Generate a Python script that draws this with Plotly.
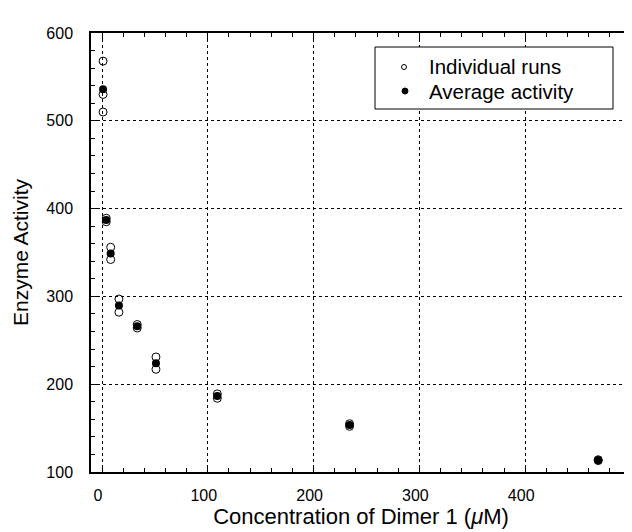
import plotly.graph_objects as go

# Concentration of Dimer 1 (uM)
conc = [1, 4, 8.2, 16, 33.3, 51, 109, 234, 469]
# Individual runs (two or three per concentration)
run_x = [1, 1, 1, 4, 4, 8.2, 8.2, 16, 16, 33.3, 33.3, 51, 51, 109, 109, 234, 234, 469, 469]
run_y = [568, 530, 510, 389, 385, 356, 342, 297, 282, 268, 264, 231, 217, 189, 184, 155, 152, 114, 113]
# Average activity
avg_y = [536, 387, 349, 289.5, 266, 224, 186.5, 153.5, 113.5]

x_ticks = [0, 100, 200, 300, 400, 500]
y_ticks = [100, 200, 300, 400, 500, 600]

legend_labels = ["Individual runs", "Average activity"]

FONT = "Liberation Sans, Arial, Helvetica, sans-serif"

W, H = 632, 532
ML, MR, MT, MB = 83, 9, 25, 68
PW, PH = W - ML - MR, H - MT - MB


def px(xp):
    return (xp - ML) / PW


def py(yp):
    return 1 - (yp - MT) / PH


fig = go.Figure()
fig.add_trace(go.Scatter(
    x=run_x, y=run_y, mode="markers", name=legend_labels[0],
    marker=dict(symbol="circle-open", size=8, color="black", line=dict(width=1, color="black")),
))
fig.add_trace(go.Scatter(
    x=conc, y=avg_y, mode="markers", name=legend_labels[1],
    marker=dict(symbol="circle", size=8, color="black"),
))

axis_common = dict(
    showline=True, linecolor="black", linewidth=1.5, mirror="ticks",
    ticks="inside", ticklen=7, tickwidth=1, tickcolor="black",
    showgrid=True, gridcolor="black", gridwidth=1, griddash="dot",
    zeroline=False,
    tickfont=dict(family=FONT, size=16, color="black"),
    minor=dict(ticks="inside", ticklen=4, tickwidth=1, tickcolor="black", dtick=20, showgrid=False),
)

fig.update_xaxes(
    range=[-10.4, 500], tickvals=x_ticks, ticktext=[str(v) for v in x_ticks],
    title=dict(text="Concentration of Dimer 1 (<i>μ</i>M)", font=dict(family=FONT, size=22, color="black"), standoff=0),
    ticklabelstandoff=8, ticklabelshift=-4,
    **axis_common,
)
fig.update_yaxes(
    range=[100, 600], tickvals=y_ticks, ticktext=[str(v) for v in y_ticks],
    title=dict(text="Enzyme Activity", font=dict(family=FONT, size=21, color="black"), standoff=12),
    ticklabelstandoff=13,
    **axis_common,
)

# Legend drawn as a box with symbols and text labels
shapes = [
    dict(type="rect", xref="paper", yref="paper",
         x0=px(367), x1=px(605), y0=py(101), y1=py(39),
         line=dict(color="black", width=1), fillcolor="white", layer="above"),
    dict(type="circle", xref="paper", yref="paper", xsizemode="pixel", ysizemode="pixel",
         xanchor=px(396), yanchor=py(59), x0=-2.5, x1=2.5, y0=-2.5, y1=2.5,
         line=dict(color="black", width=1), fillcolor="white", layer="above"),
    dict(type="circle", xref="paper", yref="paper", xsizemode="pixel", ysizemode="pixel",
         xanchor=px(397), yanchor=py(83), x0=-3, x1=3, y0=-3, y1=3,
         line=dict(color="black", width=1), fillcolor="black", layer="above"),
]
annotations = [
    dict(text=legend_labels[0], xref="paper", yref="paper", x=px(419), y=py(58.5),
         xanchor="left", yanchor="middle", showarrow=False,
         font=dict(family=FONT, size=20.5, color="black")),
    dict(text=legend_labels[1], xref="paper", yref="paper", x=px(419), y=py(83.5),
         xanchor="left", yanchor="middle", showarrow=False,
         font=dict(family=FONT, size=20.5, color="black")),
]

fig.update_layout(
    width=W, height=H,
    margin=dict(l=ML, r=MR, t=MT, b=MB, autoexpand=False),
    paper_bgcolor="white", plot_bgcolor="white",
    font=dict(family=FONT, color="black"),
    showlegend=False,
    shapes=shapes,
    annotations=annotations,
)

fig.write_html("out.html")
